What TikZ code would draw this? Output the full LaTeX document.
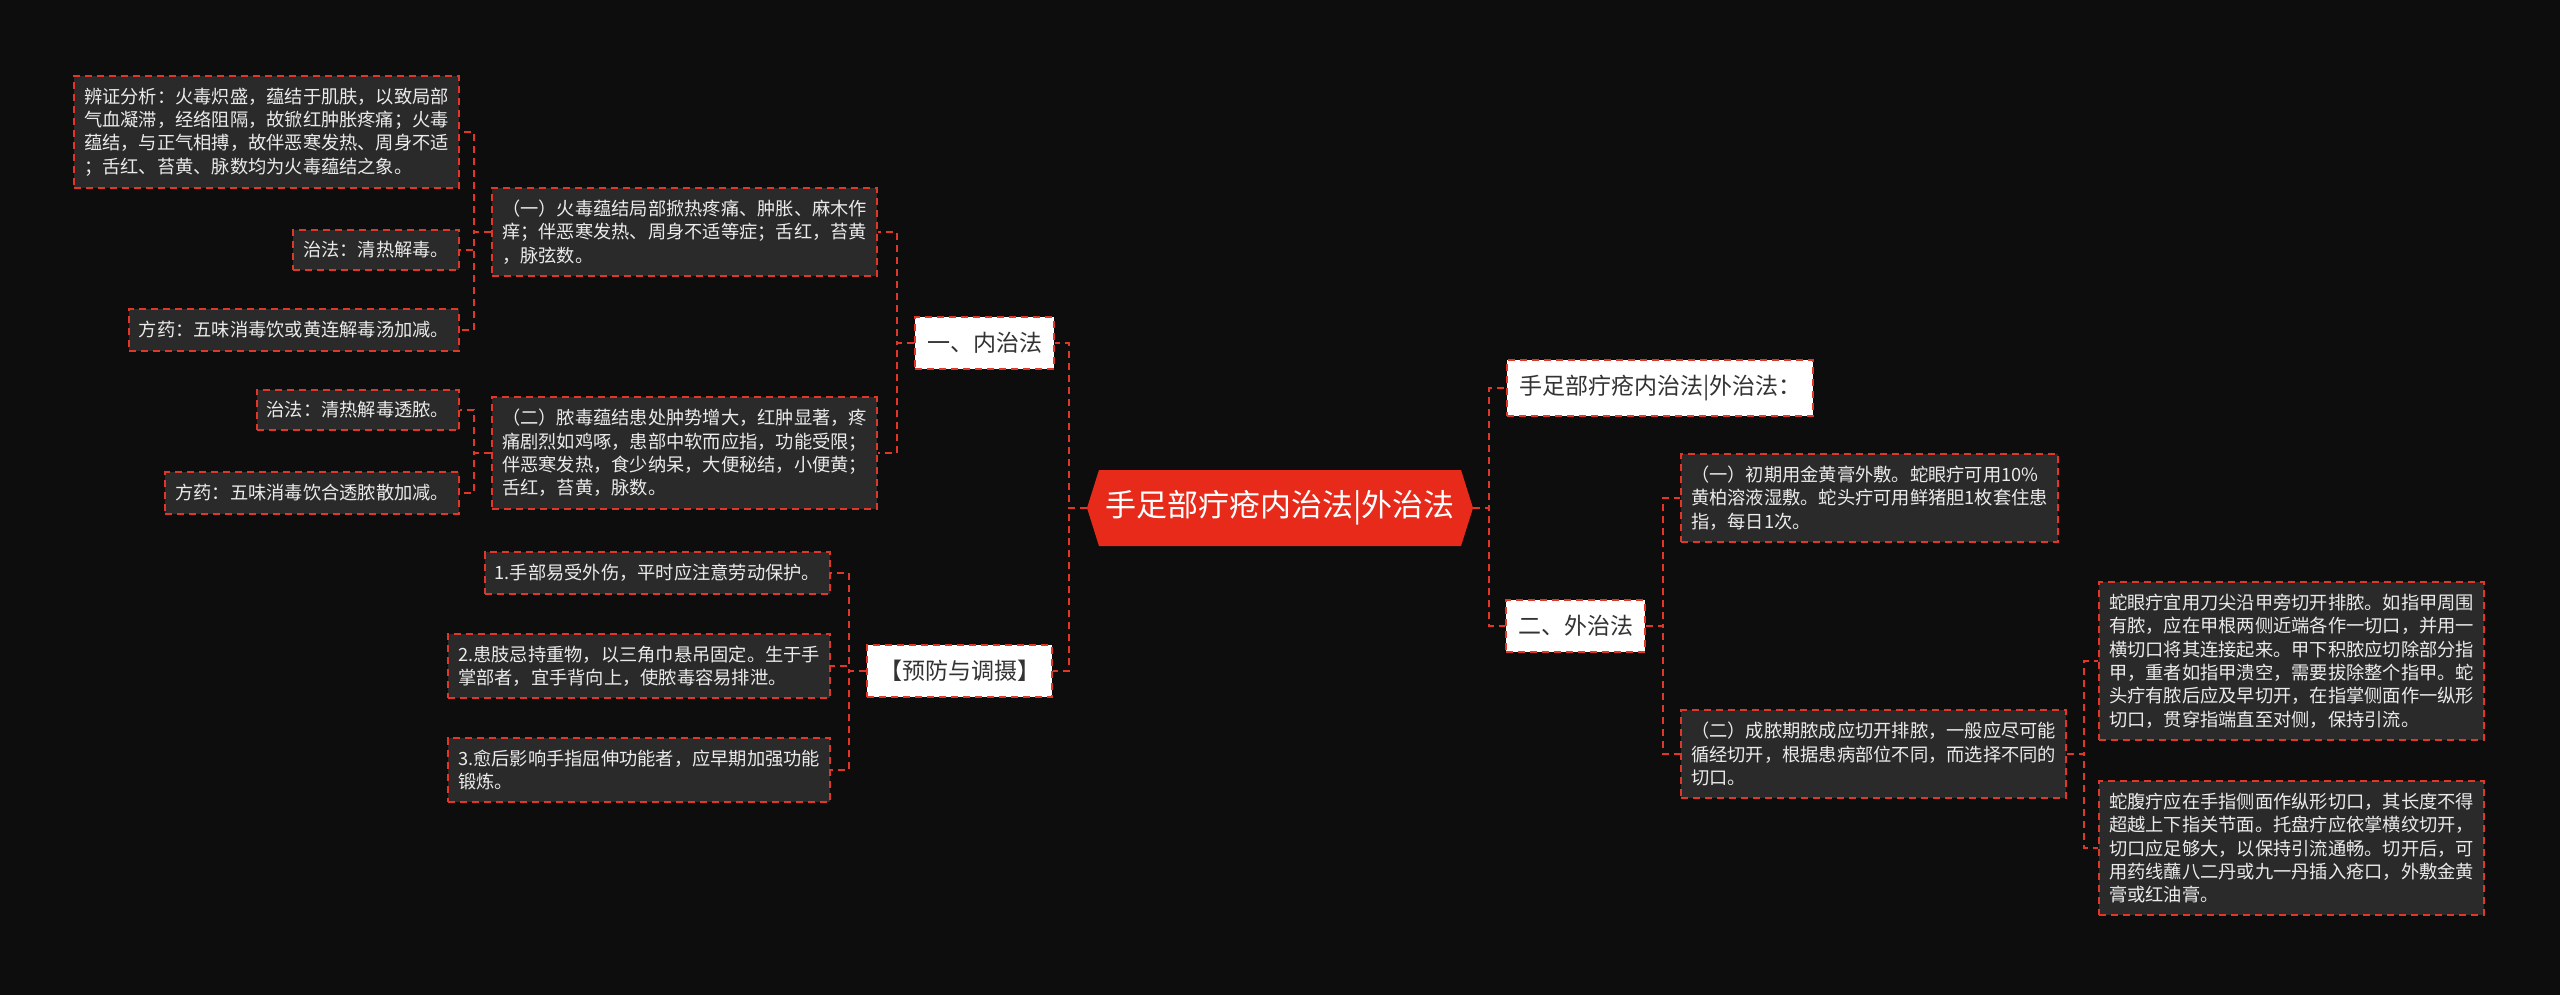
\documentclass[tikz,border=0pt]{standalone}
\usepackage{fontspec}
\setmainfont{Noto Sans CJK SC}
\usetikzlibrary{shapes.symbols}
\definecolor{bgc}{RGB}{13,13,13}
\definecolor{boxc}{RGB}{42,42,42}
\definecolor{redc}{RGB}{226,54,40}
\definecolor{rootc}{RGB}{232,42,26}
\begin{document}
\begin{tikzpicture}[x=1pt,y=-1pt,
  dsh/.style={draw=redc,line width=2pt,dash pattern=on 7pt off 5pt},
  txt/.style={dsh,fill=boxc,text=white!92!black,align=left,inner xsep=10pt,inner ysep=12pt,
    font=\fontsize{18.25}{23.3}\selectfont},
  lvl/.style={dsh,fill=white,text=black!80,inner xsep=12pt,inner ysep=15pt,
    font=\fontsize{23}{28}\selectfont},
  root/.style={shape=signal,signal to=east and west,signal pointer angle=145,fill=rootc,
    text=white,minimum width=386pt,minimum height=76pt,inner sep=0,font=\fontsize{31}{36}\selectfont}]
%%
\newcommand{\lk}[3]{\draw[dsh] (#1) -- ++(#3,0) |- (#2);}
%%
\fill[bgc] (0,0) rectangle (2560,995);
%
\node[root] (root) at (1280,508) {手足部疔疮内治法|外治法};
%
\node[lvl,anchor=east] (nei) at (1055,343) {一、内治法};
\node[lvl,anchor=east] (fang) at (1053,671) {【预防与调摄】};
\node[lvl,anchor=west] (tit) at (1506,388) {手足部疔疮内治法|外治法：};
\node[lvl,anchor=west] (wai) at (1505,626) {二、外治法};
%
\node[txt,anchor=east] (n1) at (878,232) {（一）火毒蕴结局部掀热疼痛、肿胀、麻木作\\痒；伴恶寒发热、周身不适等症；舌红，苔黄\\，脉弦数。};
\node[txt,anchor=east] (n2) at (878,453) {（二）脓毒蕴结患处肿势增大，红肿显著，疼\\痛剧烈如鸡啄，患部中软而应指，功能受限；\\伴恶寒发热，食少纳呆，大便秘结，小便黄；\\舌红，苔黄，脉数。};
\node[txt,anchor=east] (bz) at (460,132) {辨证分析：火毒炽盛，蕴结于肌肤，以致局部\\气血凝滞，经络阻隔，故锨红肿胀疼痛；火毒\\蕴结，与正气相搏，故伴恶寒发热、周身不适\\；舌红、苔黄、脉数均为火毒蕴结之象。};
\node[txt,anchor=east] (zf1) at (460,250) {治法：清热解毒。};
\node[txt,anchor=east] (fy1) at (460,330) {方药：五味消毒饮或黄连解毒汤加减。};
\node[txt,anchor=east] (zf2) at (460,410) {治法：清热解毒透脓。};
\node[txt,anchor=east] (fy2) at (460,493) {方药：五味消毒饮合透脓散加减。};
%
\node[txt,anchor=east] (p1) at (831,573) {1.手部易受外伤，平时应注意劳动保护。};
\node[txt,anchor=east] (p2) at (831,666) {2.患肢忌持重物，以三角巾悬吊固定。生于手\\掌部者，宜手背向上，使脓毒容易排泄。};
\node[txt,anchor=east] (p3) at (831,770) {3.愈后影响手指屈伸功能者，应早期加强功能\\锻炼。};
%
\node[txt,anchor=west] (w1) at (1680,498) {（一）初期用金黄膏外敷。蛇眼疔可用10\%\\黄柏溶液湿敷。蛇头疔可用鲜猪胆1枚套住患\\指，每日1次。};
\node[txt,anchor=west] (w2) at (1680,754) {（二）成脓期脓成应切开排脓，一般应尽可能\\循经切开，根据患病部位不同，而选择不同的\\切口。};
\node[txt,anchor=west] (sy) at (2098,661) {蛇眼疔宜用刀尖沿甲旁切开排脓。如指甲周围\\有脓，应在甲根两侧近端各作一切口，并用一\\横切口将其连接起来。甲下积脓应切除部分指\\甲，重者如指甲溃空，需要拔除整个指甲。蛇\\头疔有脓后应及早切开，在指掌侧面作一纵形\\切口，贯穿指端直至对侧，保持引流。};
\node[txt,anchor=west] (sf) at (2098,848) {蛇腹疔应在手指侧面作纵形切口，其长度不得\\超越上下指关节面。托盘疔应依掌横纹切开，\\切口应足够大，以保持引流通畅。切开后，可\\用药线蘸八二丹或九一丹插入疮口，外敷金黄\\膏或红油膏。};
%
\lk{root.west}{nei.east}{-18}
\lk{root.west}{fang.east}{-18}
\lk{root.east}{tit.west}{16}
\lk{root.east}{wai.west}{16}
\lk{nei.west}{n1.east}{-17}
\lk{nei.west}{n2.east}{-17}
\lk{n1.west}{bz.east}{-17}
\lk{n1.west}{zf1.east}{-17}
\lk{n1.west}{fy1.east}{-17}
\lk{n2.west}{zf2.east}{-17}
\lk{n2.west}{fy2.east}{-17}
\lk{fang.west}{p1.east}{-17}
\lk{fang.west}{p2.east}{-17}
\lk{fang.west}{p3.east}{-17}
\lk{wai.east}{w1.west}{17}
\lk{wai.east}{w2.west}{17}
\lk{w2.east}{sy.west}{17}
\lk{w2.east}{sf.west}{17}
\end{tikzpicture}
\end{document}
